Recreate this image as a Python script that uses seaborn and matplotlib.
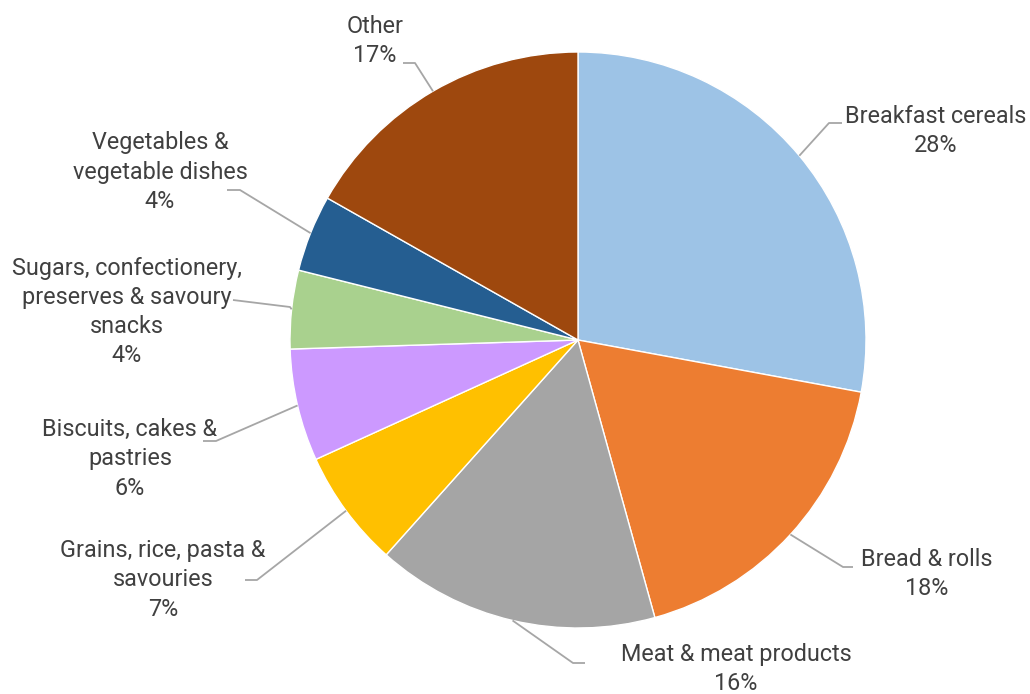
import numpy as np
import matplotlib
matplotlib.use("Agg")
import matplotlib.pyplot as plt
import seaborn as sns

# Share of intake by food group (%)
categories = [
    "Breakfast cereals",
    "Bread & rolls",
    "Meat & meat products",
    "Grains, rice, pasta &\nsavouries",
    "Biscuits, cakes &\npastries",
    "Sugars, confectionery,\npreserves & savoury\nsnacks",
    "Vegetables &\nvegetable dishes",
    "Other",
]
shares = [27.9, 17.8, 15.9, 6.6, 6.3, 4.4, 4.3, 16.8]
colors = ["#9DC3E6", "#ED7D31", "#A5A5A5", "#FFC000",
          "#CC99FF", "#A9D18E", "#255E91", "#9E480E"]

sns.set_theme(style="white")
plt.rcParams["font.family"] = ["Roboto", "DejaVu Sans"]

W, H = 1030, 694
fig = plt.figure(figsize=(W / 100, H / 100), dpi=100)
ax = fig.add_axes([0, 0, 1, 1])

cx, cy, r = 578, H - 340, 288
palette = sns.color_palette(colors)
wedges, _ = ax.pie(shares, colors=palette, startangle=90, counterclock=False,
                   center=(cx, cy), radius=r, frame=True,
                   wedgeprops=dict(edgecolor="white", linewidth=1.0))
ax.set_xlim(0, W)
ax.set_ylim(0, H)
ax.set_aspect("equal")
ax.axis("off")

# label centre (px from top-left), leader elbow and leader end (px)
layout = [
    ((936, 131), (829, 123), (842, 123)),
    ((927, 574), (843, 567), (853, 567)),
    ((736, 669), (573, 663), (585, 663)),
    ((163, 580), (257, 580), (245, 580)),
    ((130, 459), (216, 441), (203, 441)),
    ((127, 312), (290, 307), (233, 300)),
    ((160, 172), (240, 190), (227, 190)),
    ((375, 41), (415, 63), (403, 63)),
]

line_col = "#A6A6A6"
text_col = "#404040"
total = sum(shares)
cum = 0.0
for name, val, (tpos, elbow, end) in zip(categories, shares, layout):
    mid = cum + val / 2
    cum += val
    ang = np.deg2rad(90 - 360 * mid / total)
    sx, sy = cx + r * np.cos(ang), cy + r * np.sin(ang)
    ax.plot([sx, elbow[0], end[0]], [sy, H - elbow[1], H - end[1]],
            color=line_col, lw=1.3, solid_capstyle="butt", zorder=3)
    ax.text(tpos[0], H - tpos[1], f"{name}\n{round(val):d}%",
            ha="center", va="center", multialignment="center",
            fontsize=16.8, color=text_col, linespacing=1.35, zorder=4)

fig.savefig("out.png", dpi=100)
